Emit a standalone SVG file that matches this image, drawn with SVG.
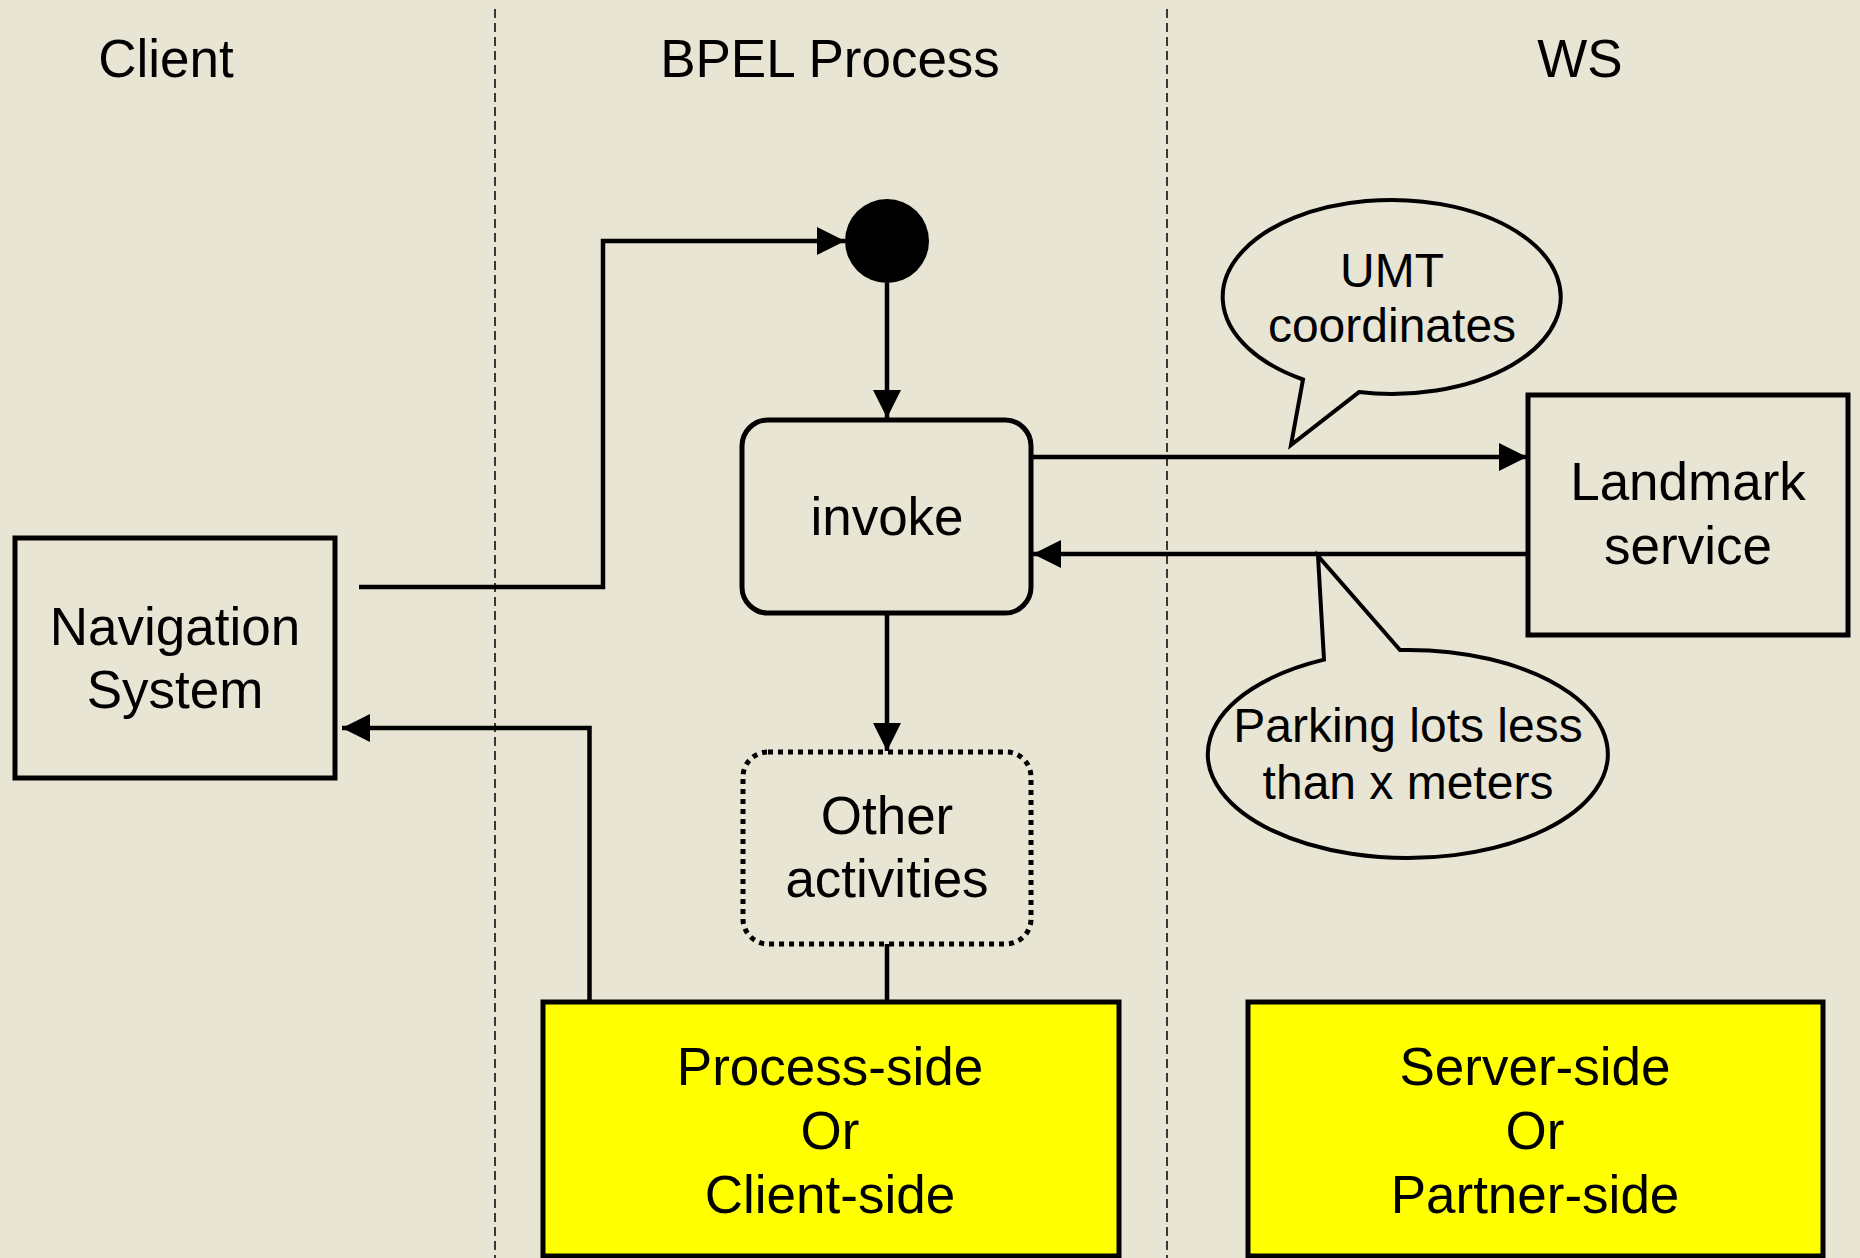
<svg xmlns="http://www.w3.org/2000/svg" width="1860" height="1258" viewBox="0 0 1860 1258">
<style>
text{font-family:"Liberation Sans",Arial,sans-serif;fill:#000;text-anchor:middle}
.t{font-size:53px}
.s{font-size:48px}
.box{fill:none;stroke:#000;stroke-width:5}
.yel{fill:#FFFF00;stroke:#000;stroke-width:5}
.con{fill:none;stroke:#000;stroke-width:4.5}
.arr{marker-end:url(#ah)}
.lane{stroke:#000;stroke-width:1.5;stroke-dasharray:9 5}
.bub{fill:#E8E5D4;stroke:#000;stroke-width:4;stroke-linejoin:miter}
</style>
<defs>
<marker id="ah" viewBox="0 0 28 28" refX="28" refY="14" markerWidth="28" markerHeight="28" markerUnits="userSpaceOnUse" orient="auto">
<path d="M0 0 L28 14 L0 28 Z" fill="#000"/>
</marker>
</defs>
<rect x="0" y="0" width="1860" height="1258" fill="#E8E5D4"/>
<g id="lanes">
<line class="lane" x1="495" y1="9" x2="495" y2="1258"/>
<line class="lane" x1="1167" y1="9" x2="1167" y2="1258"/>
<text class="t" x="166" y="77">Client</text>
<text class="t" x="830" y="77">BPEL Process</text>
<text class="t" x="1580" y="77">WS</text>
</g>
<g id="connectors">
<path class="con arr" d="M359 587 H603 V241 H845"/>
<path class="con arr" d="M887 283 V418"/>
<path class="con arr" d="M887 614 V751"/>
<path class="con" d="M887 944 V1002"/>
<path class="con arr" d="M1033 457 H1527"/>
<path class="con arr" d="M1527 554 H1033"/>
<path class="con arr" d="M589.5 1002 V728 H342"/>
</g>
<g id="start">
<circle cx="887" cy="241" r="42" fill="#000"/>
</g>
<g id="invoke">
<rect class="box" x="742" y="420" width="289" height="193" rx="26"/>
<text class="t" x="887" y="535">invoke</text>
</g>
<g id="other">
<rect x="743" y="752" width="288" height="192" rx="25" fill="none" stroke="#000" stroke-width="5" stroke-dasharray="5 5"/>
<text class="t" x="887" y="834">Other</text>
<text class="t" x="887" y="897">activities</text>
</g>
<g id="navigation">
<rect class="box" x="15" y="538" width="320" height="240"/>
<text class="t" x="175" y="645">Navigation</text>
<text class="t" x="175" y="708">System</text>
</g>
<g id="landmark">
<rect class="box" x="1528" y="395" width="320" height="240"/>
<text class="t" x="1688" y="500">Landmark</text>
<text class="t" x="1688" y="564">service</text>
</g>
<g id="umt-bubble">
<path class="bub" d="M1303 379.5 A169 97 0 1 1 1359 392.1 L1291 445 Z"/>
<text class="s" x="1392" y="287">UMT</text>
<text class="s" x="1392" y="342">coordinates</text>
</g>
<g id="parking-bubble">
<path class="bub" d="M1400 650.1 A200 104 0 1 1 1324 659.6 L1318 556 Z"/>
<text class="s" x="1408" y="742">Parking lots less</text>
<text class="s" x="1408" y="799">than x meters</text>
</g>
<g id="process-side">
<rect class="yel" x="543" y="1002" width="576" height="254"/>
<text class="t" x="830" y="1085">Process-side</text>
<text class="t" x="830" y="1149">Or</text>
<text class="t" x="830" y="1213">Client-side</text>
</g>
<g id="server-side">
<rect class="yel" x="1248" y="1002" width="575" height="254"/>
<text class="t" x="1535" y="1085">Server-side</text>
<text class="t" x="1535" y="1149">Or</text>
<text class="t" x="1535" y="1213">Partner-side</text>
</g>
</svg>
